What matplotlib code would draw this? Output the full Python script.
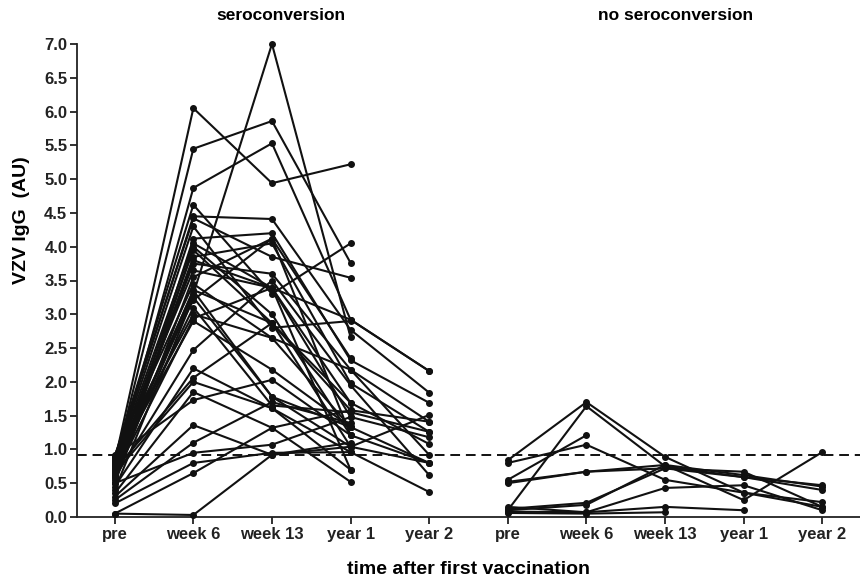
import numpy as np
import matplotlib
matplotlib.use("Agg")
import matplotlib.pyplot as plt

plt.rcParams['font.family'] = ['Liberation Sans', 'DejaVu Sans']
plt.rcParams['font.weight'] = 'bold'

nan = np.nan

timepoints = ["pre", "week 6", "week 13", "year 1", "year 2"]
cutoff = 0.92

# VZV IgG per subject: pre, week 6, week 13, year 1, year 2
sero = [
    [0.82, 6.05, 4.94, 5.22, nan],
    [0.78, 5.45, 5.86, 3.76, nan],
    [0.70, 4.87, 5.53, 2.92, 2.16],
    [0.88, 4.62, 3.30, 4.05, nan],
    [0.85, 4.45, 4.41, 2.77, 1.84],
    [0.60, 3.30, 7.00, 2.66, nan],
    [0.90, 4.42, 3.85, 3.54, nan],
    [0.55, 4.12, 4.20, 2.32, 1.69],
    [0.80, 4.05, 3.39, 2.92, 2.16],
    [0.75, 3.95, 2.87, 1.58, 1.41],
    [0.65, 3.85, 4.05, 1.98, 1.26],
    [0.72, 3.75, 3.60, 2.18, 0.92],
    [0.85, 3.65, 3.39, 1.48, 1.18],
    [0.50, 3.55, 4.12, 2.35, nan],
    [0.92, 3.45, 2.65, 1.33, nan],
    [0.68, 3.36, 2.87, 1.69, 1.08],
    [0.40, 3.25, 1.78, 1.04, nan],
    [0.88, 3.21, 4.12, 1.21, 0.80],
    [0.62, 2.94, 3.39, 0.70, nan],
    [0.80, 2.90, 2.18, 1.33, nan],
    [0.58, 2.47, 3.50, 1.95, 0.62],
    [0.45, 2.20, 1.61, 0.96, nan],
    [0.70, 2.06, 2.87, 1.04, 0.80],
    [0.35, 1.85, 1.32, 0.52, nan],
    [0.90, 1.73, 2.03, 1.21, nan],
    [0.30, 1.36, 0.92, 1.04, 1.51],
    [0.25, 1.10, 1.70, 1.39, nan],
    [0.50, 0.95, 1.07, 1.48, nan],
    [0.20, 0.80, 0.95, 0.96, 0.37],
    [0.05, 0.65, 1.32, 1.58, nan],
    [0.05, 0.03, 0.92, 1.10, nan],
    [0.60, 3.80, 3.39, 1.69, nan],
    [0.75, 3.35, 1.78, 1.33, 0.80],
    [0.85, 3.00, 2.65, 2.18, 1.41],
    [0.50, 4.00, 3.00, 1.21, nan],
    [0.65, 2.00, 1.61, 0.70, nan],
    [0.80, 4.30, 2.80, 2.90, nan],
    [0.70, 3.10, 1.65, 1.55, 1.26],
]

no_sero = [
    [0.84, 1.70, 0.89, 0.36, 0.22],
    [0.10, 1.64, 0.75, 0.59, 0.47],
    [0.55, 1.21, nan, nan, nan],
    [0.80, 1.07, 0.55, 0.36, 0.15],
    [0.52, 0.67, 0.77, 0.62, 0.45],
    [0.50, 0.67, 0.72, 0.59, 0.40],
    [0.12, 0.21, 0.72, 0.67, 0.15],
    [0.15, 0.07, 0.43, 0.47, 0.10],
    [0.08, 0.07, 0.15, 0.10, nan],
    [0.06, 0.05, 0.07, nan, nan],
    [0.10, 0.18, 0.77, 0.25, 0.96],
]

fig = plt.figure(figsize=(8.6, 5.82), dpi=100)
ax = fig.add_axes([77 / 860, 1 - 517 / 582, 1 - 77 / 860, (517 - 44) / 582])

n = len(timepoints)
for offset, group in [(0, sero), (n, no_sero)]:
    xs = np.arange(n) + offset
    for row in group:
        row = np.array(row, dtype=float)
        ok = ~np.isnan(row)
        ax.plot(xs[ok], row[ok], color='#111111', lw=1.5, marker='o',
                ms=4, clip_on=False, zorder=3)

ax.axhline(cutoff, color='#111111', lw=1.4, ls=(0, (5, 3)), zorder=2)

ax.set_xlim(-0.48, 2 * n - 0.52)
ax.set_ylim(0, 7.0)
ax.set_yticks(np.arange(0, 7.01, 0.5))
ax.set_yticklabels([f"{v:.1f}" for v in np.arange(0, 7.01, 0.5)])
ax.set_xticks(np.arange(2 * n))
ax.set_xticklabels(timepoints * 2)

for side in ['top', 'right']:
    ax.spines[side].set_visible(False)
for side in ['left', 'bottom']:
    ax.spines[side].set_linewidth(1.3)
    ax.spines[side].set_color('#222222')
ax.tick_params(direction='out', length=5, width=1.3, colors='#222222',
               labelsize=12, pad=2)
for lab in ax.get_xticklabels() + ax.get_yticklabels():
    lab.set_fontweight('bold')

ax.set_xlabel("time after first vaccination", fontsize=14,
              fontweight='bold', labelpad=14)
fig.text(22 / 860, 1 - 220 / 582, "VZV IgG  (AU)", rotation=90,
         ha='center', va='center', fontsize=14, fontweight='bold')

fig.text(281 / 860, 1 - 15 / 582, "seroconversion", ha='center',
         va='center', fontsize=12.5, fontweight='bold')
fig.text(676 / 860, 1 - 15 / 582, "no seroconversion", ha='center',
         va='center', fontsize=12.5, fontweight='bold')

fig.savefig("out.png", dpi=100)
